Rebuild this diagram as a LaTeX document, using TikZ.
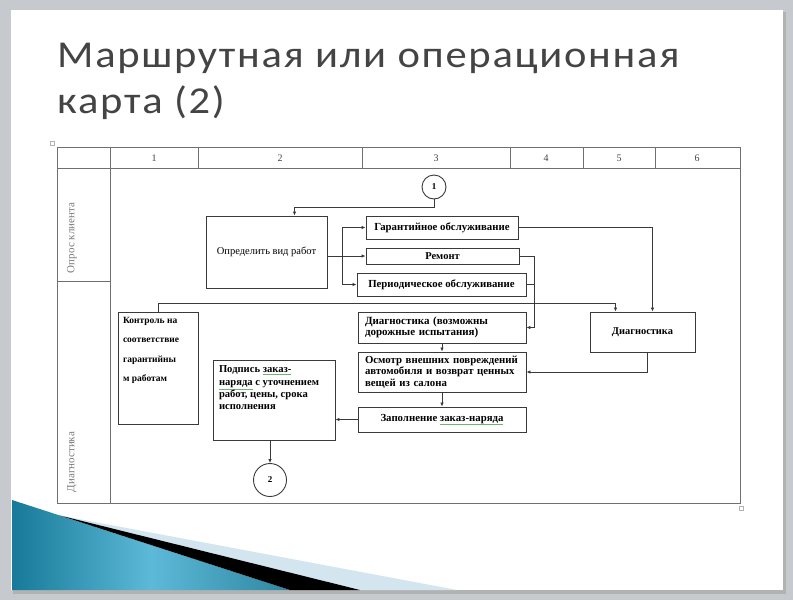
\documentclass[tikz,border=0pt]{standalone}
\usepackage{fontspec}
\setmainfont{Liberation Serif}
\newfontfamily\titlefont[LetterSpace=4]{Carlito}
\usetikzlibrary{arrows.meta}
\definecolor{slidegray}{HTML}{C6C9CE}
\definecolor{titlegray}{HTML}{444444}
\definecolor{gridgray}{HTML}{707070}
\definecolor{boxgray}{HTML}{3A3A3A}
\definecolor{lanegray}{HTML}{7A7A7A}
\definecolor{spellgreen}{HTML}{6FB36F}
\definecolor{swooshdark}{HTML}{177A98}
\definecolor{swooshlight}{HTML}{5DB9D8}
\definecolor{swooshpale}{HTML}{D3E5EE}
\newcommand\spellmark[1]{\leavevmode\vtop{\hbox{#1}\kern1pt{\color{spellgreen}\hrule height0.6pt}}}

\begin{document}
\begin{tikzpicture}[x=1pt,y=-1pt]
\tikzset{
    grid/.style={draw=gridgray,line width=0.8pt},
    box/.style={draw=boxgray,line width=0.9pt,fill=white,inner sep=3pt,
        font=\fontsize{10.8}{12}\selectfont\bfseries,align=center},
    conn/.style={draw=boxgray,line width=0.9pt,-{Latex[length=4pt,width=3.5pt]}},
    head/.style={font=\fontsize{10}{12}\selectfont,text=titlegray},
    lane/.style={font=\fontsize{11}{13}\selectfont,text=lanegray,rotate=90},
    ring/.style={draw=boxgray,line width=0.9pt,circle,inner sep=0pt,
        font=\fontsize{9}{11}\selectfont\bfseries},
    slidetitle/.style={anchor=base west,inner sep=0pt,xscale=1.12,text=titlegray,
        font=\titlefont\fontsize{38}{46}\selectfont}
}
\useasboundingbox (0,0) rectangle (793,600);
% Slide
\fill[slidegray] (0,0) rectangle (793,600);
\fill[black!30] (13,12) rectangle (786,594);
\fill[white] (11,10) rectangle (783,590);
\shade[left color=swooshdark,right color=swooshdark!90,middle color=swooshlight]
    (12,500) -- (290,590) -- (12,590) -- cycle;
\fill[swooshpale] (60,515.5) -- (457,590) -- (360,590) -- cycle;
\fill[black] (60,515.5) -- (360,590) -- (290,590) -- cycle;
\node[slidetitle] (title1) at (57,67) {Маршрутная или операционная};
\node[slidetitle] (title2) at (57,113) {карта (2)};
% Table
\draw[grid] (57,147) rectangle (740,503);
\draw[grid] (57,168) -- (740,168);
\draw[grid] (110,147) -- (110,503);
\draw[grid] (57,281) -- (110,281);
\foreach \x in {198,362,510,583,655}
    \draw[grid] (\x,147) -- (\x,168);
\foreach \n/\x in {1/154,2/280,3/436,4/546,5/619,6/697}
    \node[head] (col\n) at (\x,158) {\n};
\node[lane] (lane1) at (72,238) {Опрос клиента};
\node[lane] (lane2) at (72,462) {Диагностика};
\draw[gray!60,line width=0.5pt] (50,141) rectangle (54,145);
\draw[gray!60,line width=0.5pt] (739,506) rectangle (743,510);
% Boxes
\node[ring,minimum size=24pt] (cone) at (434,187) {1};
\node[box,font=\fontsize{10.5}{12}\selectfont,minimum width=121pt,minimum height=72pt]
    (work) at (266.5,252) {Определить вид работ};
\node[box,minimum width=152pt,minimum height=23pt] (garant) at (442,227.5) {Гарантийное обслуживание};
\node[box,minimum width=153pt,minimum height=16pt,inner ysep=0pt,font=\fontsize{10.5}{10.5}\selectfont\bfseries]
    (remont) at (442.5,256) {Ремонт};
\node[box,minimum width=169pt,minimum height=23pt] (period) at (441.5,284.5) {Периодическое обслуживание};
\node[box,inner sep=5pt] (kontrol) at (158,368)
    {\parbox[c][102pt][t]{70pt}{\raggedright\fontsize{9.5}{19.5}\selectfont
     Контроль на\\соответствие\\гарантийны\\м работам}};
\node[box,text width=154pt,inner xsep=7pt,minimum height=31pt,align=left,
    font=\fontsize{11}{11}\selectfont\bfseries]
    (diagA) at (442,327.5) {Диагностика (возможны\\дорожные испытания)};
\node[box,text width=154pt,inner xsep=7pt,minimum height=40pt,inner ysep=1pt,align=left,
    font=\fontsize{10.8}{11.5}\selectfont\bfseries]
    (osmotr) at (442,372) {Осмотр внешних повреждений\\автомобиля и возврат ценных\\вещей из салона};
\node[box,minimum width=168pt,minimum height=25pt] (zapoln) at (442,419.5)
    {Заполнение \spellmark{заказ-наряда}};
\node[box,inner sep=6pt] (podpis) at (274,400)
    {\parbox[c][68pt][t]{110pt}{\raggedright\fontsize{10.6}{12.3}\selectfont
     Подпись \spellmark{заказ-}\\\spellmark{наряда} с уточнением\\работ, цены, срока\\исполнения}};
\node[box,font=\fontsize{10.4}{12}\selectfont\bfseries,minimum width=105pt,minimum height=40pt]
    (diagB) at (642.5,332) {Диагностика};
\node[ring,minimum size=33pt] (ctwo) at (270,480) {2};
% Connectors
\draw[conn] (cone.south) -- ++(0,8) -| ([xshift=28pt]work.north);
\coordinate (fork) at (342,256);
\draw[conn,-] (work.east |- remont) -- (fork);
\draw[conn] (fork) -- (remont.west);
\draw[conn] (fork) |- (garant.west);
\draw[conn] (fork) |- (period.west);
\draw[conn] (garant.east) -| ([xshift=10pt]diagB.north);
\draw[conn] (remont.east) -- ++(15,0) |- (diagA.east);
\draw[conn,-] (period.east) -- ++(8,0);
\draw[conn] (kontrol.north) -- ++(0,-8) -| ([xshift=-27pt]diagB.north);
\draw[conn] (diagA.south) -- (osmotr.north);
\draw[conn] (osmotr.south) -- (zapoln.north);
\draw[conn] ([xshift=4.5pt]diagB.south) |- (osmotr.east);
\draw[conn] (zapoln.west) -- (zapoln.west -| podpis.east);
\draw[conn] (podpis.south -| ctwo.north) -- (ctwo.north);
\end{tikzpicture}
\end{document}
